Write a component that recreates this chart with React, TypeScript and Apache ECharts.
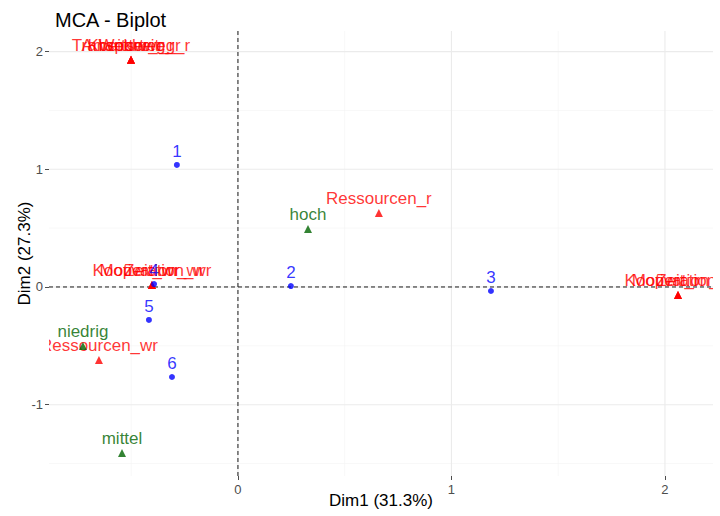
import React, { useEffect, useRef } from "react";
import * as echarts from "echarts";

// Individuals (row points)
const indNames = ["1", "2", "3", "4", "5", "6"];
const indDim1 = [-0.286, 0.248, 1.185, -0.393, -0.417, -0.309];
const indDim2 = [1.037, 0.008, -0.034, 0.025, -0.28, -0.765];

// Variable categories (column points)
const varNames = [
  "Krankheit_r", "Wetter_r", "Transportweg_r", "Arbeitsweg_r",
  "Ressourcen_r",
  "Kooperation_wr", "Zeit_wr", "Motivation_wr",
  "Motivation_r", "Kooperation_r", "Zeit_r",
  "Ressourcen_wr",
];
const varDim1 = [-0.501, -0.501, -0.501, -0.501, 0.66, -0.403, -0.403, -0.403, 2.061, 2.061, 2.061, -0.651];
const varDim2 = [1.93, 1.93, 1.93, 1.93, 0.629, 0.017, 0.017, 0.017, -0.068, -0.068, -0.068, -0.62];

// Supplementary qualitative categories
const supNames = ["hoch", "niedrig", "mittel"];
const supDim1 = [0.328, -0.726, -0.543];
const supDim2 = [0.493, -0.501, -1.41];

// Axis ranges and reference lines
const X_MIN = -0.885;
const X_MAX = 2.225;
const Y_MIN = -1.606;
const Y_MAX = 2.175;
const xTicks = [0, 1, 2];
const yTicks = [-1, 0, 1, 2];
const xMinor = [-0.5, 0.5, 1.5];
const yMinor = [-1.5, -0.5, 0.5, 1.5];

const FONT = '"Liberation Sans", Arial, Helvetica, sans-serif';

const toPoints = (names: string[], xs: number[], ys: number[]) =>
  names.map((n, i) => ({ name: n, value: [xs[i], ys[i]] }));

export default function App() {
  const ref = useRef<HTMLDivElement>(null);

  useEffect(() => {
    if (!ref.current) return;
    const chart = echarts.init(ref.current, null, { renderer: "svg", width: 720, height: 516 });

    // [value, orientation (0 vertical / 1 horizontal), kind (0 minor, 1 major, 2 dashed zero)]
    const guideLines: number[][] = [
      ...xMinor.map((v) => [v, 0, 0]),
      ...yMinor.map((v) => [v, 1, 0]),
      ...xTicks.map((v) => [v, 0, 1]),
      ...yTicks.map((v) => [v, 1, 1]),
      [0, 0, 2],
      [0, 1, 2],
    ];

    const labelStyle = (color: string) => ({
      show: true,
      position: "top",
      distance: 2,
      formatter: "{b}",
      color,
      fontSize: 17,
      fontFamily: FONT,
    });

    chart.setOption({
      animation: false,
      textStyle: { fontFamily: FONT },
      title: {
        text: "MCA - Biplot",
        left: 55,
        top: 10,
        padding: 0,
        textStyle: { fontSize: 20, fontWeight: "normal", color: "#000", fontFamily: FONT },
      },
      grid: { left: 49, right: 7, top: 31, bottom: 40, containLabel: false, outerBoundsMode: "none" },
      xAxis: {
        type: "value",
        min: X_MIN,
        max: X_MAX,
        z: 10,
        name: "Dim1 (31.3%)",
        nameLocation: "middle",
        nameGap: 16,
        nameMoveOverlap: false,
        nameTextStyle: { fontSize: 17, color: "#000", fontFamily: FONT },
        axisLine: { show: false, onZero: false },
        splitLine: { show: false },
        axisTick: { show: true, length: 4, customValues: xTicks, lineStyle: { color: "#4D4D4D" } },
        axisLabel: { customValues: xTicks, color: "#4D4D4D", fontSize: 13, margin: 7, fontFamily: FONT },
      },
      yAxis: {
        type: "value",
        min: Y_MIN,
        max: Y_MAX,
        z: 10,
        name: "Dim2 (27.3%)",
        nameLocation: "middle",
        nameGap: 16,
        nameMoveOverlap: false,
        nameTextStyle: { fontSize: 17, color: "#000", fontFamily: FONT },
        axisLine: { show: false, onZero: false },
        splitLine: { show: false },
        axisTick: { show: true, length: 4, customValues: yTicks, lineStyle: { color: "#4D4D4D" } },
        axisLabel: { customValues: yTicks, color: "#4D4D4D", fontSize: 13, margin: 6, fontFamily: FONT },
      },
      graphic: [
        // panel clipping for labels running past the plotting area
        { type: "rect", z: 5, shape: { x: 0, y: 31, width: 49, height: 445 }, style: { fill: "#fff" } },
        { type: "rect", z: 5, shape: { x: 713, y: 31, width: 7, height: 445 }, style: { fill: "#fff" } },
      ],
      series: [
        {
          type: "custom",
          z: 1,
          silent: true,
          clip: false,
          data: guideLines,
          renderItem: (_params: any, api: any) => {
            const v = api.value(0);
            const horizontal = api.value(1) === 1;
            const kind = api.value(2);
            const p1 = horizontal ? api.coord([X_MIN, v]) : api.coord([v, Y_MIN]);
            const p2 = horizontal ? api.coord([X_MAX, v]) : api.coord([v, Y_MAX]);
            const style =
              kind === 2
                ? { stroke: "#1a1a1a", lineWidth: 1, lineDash: [4, 3], fill: null }
                : kind === 1
                ? { stroke: "#EBEBEB", lineWidth: 1.1, fill: null }
                : { stroke: "#F4F4F4", lineWidth: 0.6, fill: null };
            return {
              type: "line",
              shape: { x1: p1[0], y1: p1[1], x2: p2[0], y2: p2[1] },
              style,
              z2: kind === 2 ? 10 : kind,
            };
          },
        },
        {
          name: "var",
          type: "scatter",
          z: 2,
          symbol: "triangle",
          symbolSize: 8,
          itemStyle: { color: "#FF0000" },
          label: labelStyle("#FF0000"),
          data: toPoints(varNames, varDim1, varDim2),
        },
        {
          name: "ind",
          type: "scatter",
          z: 3,
          symbol: "circle",
          symbolSize: 6,
          itemStyle: { color: "#0000FF" },
          label: labelStyle("#0000FF"),
          data: toPoints(indNames, indDim1, indDim2),
        },
        {
          name: "sup",
          type: "scatter",
          z: 4,
          symbol: "triangle",
          symbolSize: 8,
          itemStyle: { color: "#006400" },
          label: labelStyle("#006400"),
          data: toPoints(supNames, supDim1, supDim2),
        },
      ],
    });

    return () => chart.dispose();
  }, []);

  return (
    <div
      ref={ref}
      style={{ position: "fixed", left: 0, top: 0, width: 720, height: 516, background: "#fff" }}
    />
  );
}
